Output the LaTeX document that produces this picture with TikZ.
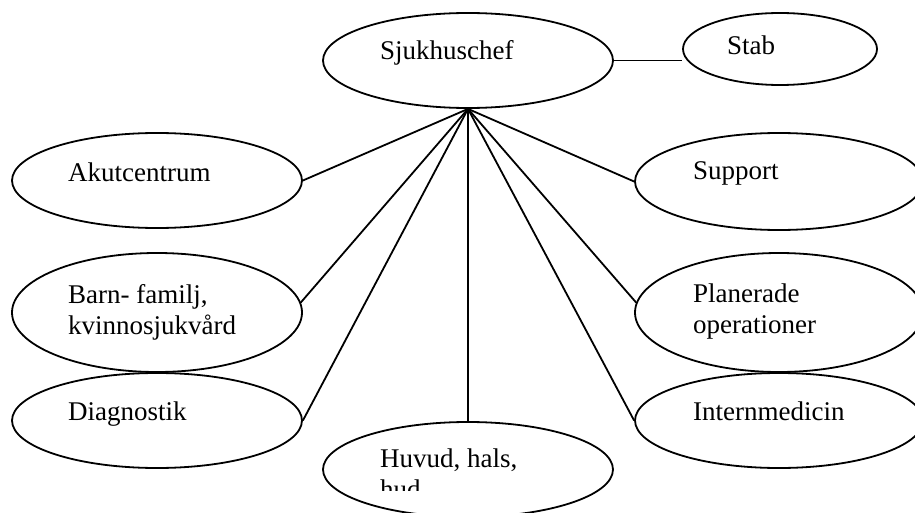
\documentclass[tikz,border=0pt]{standalone}
\usepackage{fontspec}
\setmainfont{Liberation Serif}
\usetikzlibrary{shapes.geometric}

\begin{document}
\begin{tikzpicture}[
  x=1pt, y=-1pt,
  unit/.style={ellipse, draw=black, line width=1.8pt, inner sep=0pt,
               minimum width=290pt, minimum height=95pt},
  txt/.style={anchor=base west, inner sep=0pt, align=left,
              font=\fontsize{27}{31}\selectfont},
  conn/.style={line width=1.8pt}
]
  \useasboundingbox (0,0) rectangle (915,513);
  \clip (0,0) rectangle (915,513);

  \node[unit] (sjuk) at (468,60.5) {};
  \node[unit, minimum width=194pt, minimum height=72pt] (stab) at (780,49) {};
  \node[unit] (akut) at (157,180.5) {};
  \node[unit, minimum height=119pt] (barn) at (157,312.5) {};
  \node[unit] (diag) at (157,420.5) {};
  \node[unit] (huvud) at (468,469.5) {};
  \node[unit, minimum width=288pt, minimum height=97pt] (support) at (779,181.5) {};
  \node[unit, minimum width=288pt, minimum height=119pt] (plan) at (779,312.5) {};
  \node[unit, minimum width=288pt] (intern) at (779,420.5) {};

  \node[txt] (sjuk-t) at (380,60) {Sjukhuschef};
  \node[txt] (stab-t) at (727,55) {Stab};
  \node[txt] (akut-t) at (68,182) {Akutcentrum};
  \node[txt] (barn-t) at (68,334) {Barn- familj,\\kvinnosjukvård};
  \node[txt] (diag-t) at (68,420) {Diagnostik};
  \node[txt] (support-t) at (693,180) {Support};
  \node[txt] (plan-t) at (693,333) {Planerade\\operationer};
  \node[txt] (intern-t) at (693,420) {Internmedicin};
  \begin{scope}
    \clip (323,422) rectangle (613,490);
    \node[txt] (huvud-t) at (380,498) {Huvud, hals,\\hud};
  \end{scope}

  \draw[conn] (sjuk.east) -- (stab.west |- sjuk.east);
  \draw[conn] (sjuk.south) -- (akut.east);
  \draw[conn] (sjuk.south) -- (barn.4);
  \draw[conn] (sjuk.south) -- (diag.east);
  \draw[conn] (sjuk.south) -- (huvud.north);
  \draw[conn] (sjuk.south) -- (support.west);
  \draw[conn] (sjuk.south) -- (plan.176);
  \draw[conn] (sjuk.south) -- (intern.west);
\end{tikzpicture}
\end{document}
